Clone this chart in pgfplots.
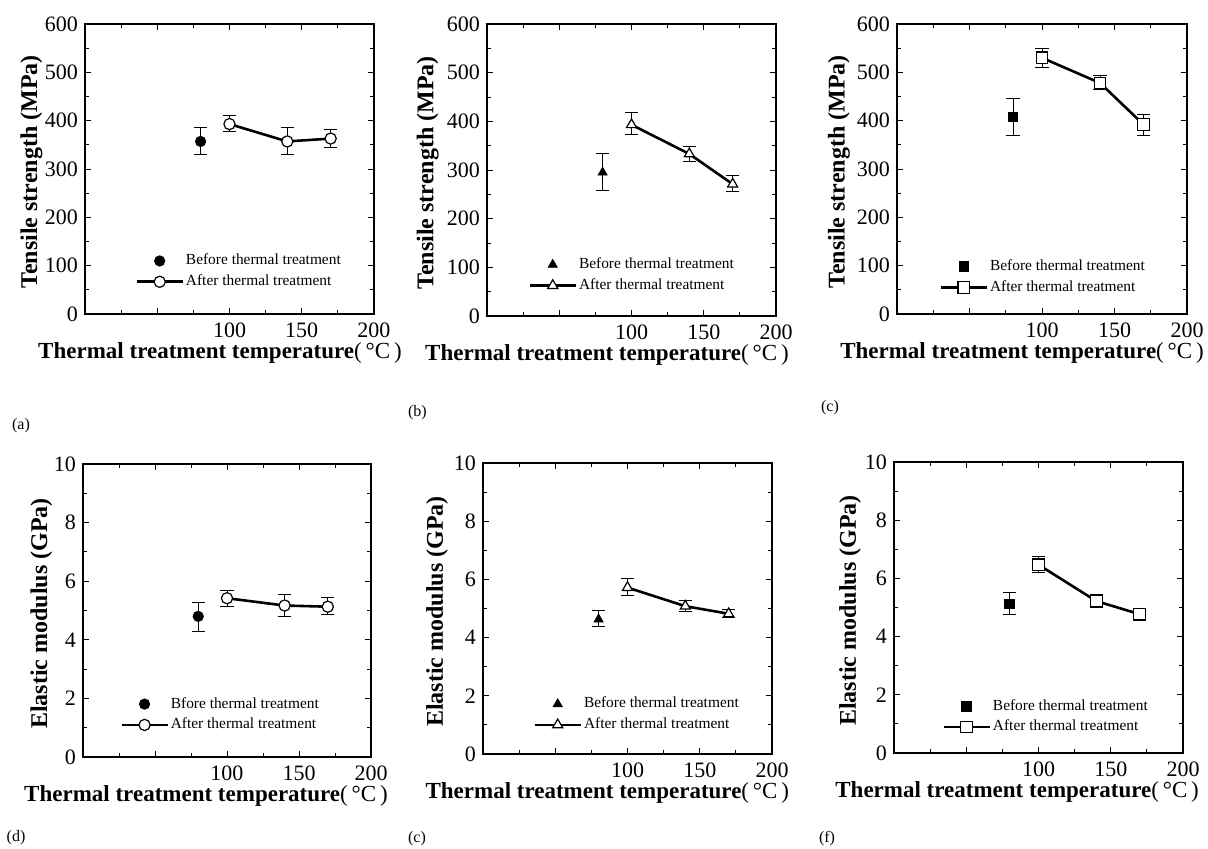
\documentclass[border=0pt]{standalone}
\usepackage{pgfplots}
\pgfplotsset{compat=1.18}
\usepackage{fontspec}
\setmainfont{Liberation Serif}
\begin{document}
\begin{tikzpicture}
\pgfplotsset{
  panel/.style={
    scale only axis,
    xmin=0, xmax=200,
    xtick={0,50,100,150,200},
    xticklabels={,,100,150,200},
    minor x tick num=1,
    minor y tick num=1,
    tick align=inside,
    major tick length=3pt,
    minor tick length=2pt,
    axis line style={line width=0.6pt},
    every tick/.style={black, line width=0.5pt},
    tick label style={font=\fontsize{11}{12}\selectfont},
    /pgf/number format/assume math mode=true,
    xticklabel style={yshift=-1pt},
    xlabelpos/.style={every axis x label/.style={at={(axis description cs:##1,-0.134)}, anchor=center, font=\bfseries\fontsize{11.5}{13}\selectfont}},
    ylabelpos/.style={every axis y label/.style={at={(axis description cs:##1,0.49)}, rotate=90, anchor=center, font=\bfseries\fontsize{12}{13}\selectfont}},
    xlabel={Thermal treatment temperature{\mdseries (\,°C\,)}},
    legend style={draw=none, fill=none, font=\fontsize{7.7}{8}\selectfont, inner sep=0pt, row sep=1.5pt, nodes={inner sep=1pt}, anchor=west},
    legend cell align=left,
    legend image code/.code={\draw[mark repeat=2,mark phase=2,##1] plot coordinates {(0pt,0pt) (11.5pt,0pt) (23pt,0pt)};},
    error bars/y dir=both, error bars/y explicit,
    error bars/error bar style={line width=0.5pt, black},
    error bars/error mark options={rotate=90, mark size=3.3pt, line width=0.5pt, black},
  },
  toprow/.style={ymin=0, ymax=600, ytick distance=100, ylabel={Tensile strength (MPa)}},
  botrow/.style={ymin=0, ymax=10, ytick distance=2, ylabel={Elastic modulus (GPa)}},
  before/.style={only marks, black, mark options={fill=black, draw=black}},
  after/.style={black, line width=1.3pt, mark options={fill=white, draw=black, line width=0.6pt}},
}
\path[use as bounding box] (0,0) rectangle (604pt,424pt);

% (a)
\begin{axis}[panel, toprow, xlabelpos=0.467, ylabelpos=-0.185, at={(42.5pt,267pt)}, anchor=south west, width=144.5pt, height=145pt,
  legend style={at={(axis description cs:0.173,0.147)}}]
\addplot[before, mark=*, mark size=2.6pt] coordinates {(80,357) += (0,28) -= (0,27)};
\addlegendentry{Before thermal treatment}
\addplot[after, mark=*, mark size=2.8pt] coordinates {(100,393) += (0,17) -= (0,15) (140,357) += (0,28) -= (0,28) (170,363) += (0,19) -= (0,19)};
\addlegendentry{After thermal treatment}
\end{axis}

% (b)
\begin{axis}[panel, toprow, xlabelpos=0.415, ylabelpos=-0.205, at={(243.5pt,266pt)}, anchor=south west, width=144.5pt, height=146pt,
  legend style={at={(axis description cs:0.142,0.140)}}]
\addplot[before, mark=triangle*, mark size=2.6pt] coordinates {(80,295) += (0,39) -= (0,37)};
\addlegendentry{Before thermal treatment}
\addplot[after, mark=triangle*, mark size=2.9pt] coordinates {(100,393) += (0,26) -= (0,21) (140,333) += (0,16) -= (0,15) (170,271) += (0,17) -= (0,15)};
\addlegendentry{After thermal treatment}
\end{axis}

% (c)
\begin{axis}[panel, toprow, xlabelpos=0.431, ylabelpos=-0.2, at={(448.5pt,267pt)}, anchor=south west, width=145pt, height=145pt,
  legend style={at={(axis description cs:0.145,0.128)}}]
\addplot[before, mark=square*, mark size=2.4pt] coordinates {(80,408) += (0,37) -= (0,38)};
\addlegendentry{Before thermal treatment}
\addplot[after, mark=square*, mark size=2.9pt] coordinates {(100,530) += (0,20) -= (0,20) (140,478) += (0,15) -= (0,13) (170,392) += (0,21) -= (0,22)};
\addlegendentry{After thermal treatment}
\end{axis}

% (d)
\begin{axis}[panel, botrow, xlabelpos=0.427, ylabelpos=-0.145, at={(41.5pt,45.5pt)}, anchor=south west, width=144pt, height=146.5pt,
  legend style={at={(axis description cs:0.128,0.145)}}]
\addplot[before, mark=*, mark size=2.6pt] coordinates {(80,4.8) += (0,0.47) -= (0,0.5)};
\addlegendentry{Bfore thermal treatment}
\addplot[after, mark=*, mark size=2.8pt] coordinates {(100,5.42) += (0,0.26) -= (0,0.27) (140,5.17) += (0,0.38) -= (0,0.39) (170,5.13) += (0,0.3) -= (0,0.28)};
\addlegendentry{After thermal treatment}
\end{axis}

% (e)
\begin{axis}[panel, botrow, xlabelpos=0.43, ylabelpos=-0.159, at={(241.5pt,47pt)}, anchor=south west, width=144.5pt, height=145.5pt,
  legend style={at={(axis description cs:0.173,0.136)}}]
\addplot[before, mark=triangle*, mark size=2.6pt] coordinates {(80,4.63) += (0,0.3) -= (0,0.26)};
\addlegendentry{Before thermal treatment}
\addplot[after, mark=triangle*, mark size=2.9pt] coordinates {(100,5.72) += (0,0.31) -= (0,0.27) (140,5.08) += (0,0.2) -= (0,0.18) (170,4.82) += (0,0.16) -= (0,0.14)};
\addlegendentry{After thermal treatment}
\end{axis}

% (f)
\begin{axis}[panel, botrow, xlabelpos=0.426, ylabelpos=-0.152, at={(447pt,47.5pt)}, anchor=south west, width=144.5pt, height=145.5pt,
  legend style={at={(axis description cs:0.166,0.125)}}]
\addplot[before, mark=square*, mark size=2.4pt] coordinates {(80,5.13) += (0,0.37) -= (0,0.38)};
\addlegendentry{Before thermal treatment}
\addplot[after, mark=square*, mark size=2.9pt] coordinates {(100,6.47) += (0,0.28) -= (0,0.25) (140,5.22) += (0,0.23) -= (0,0.22) (170,4.77) += (0,0.16) -= (0,0.17)};
\addlegendentry{After thermal treatment}
\end{axis}

\begin{scope}[every node/.style={font=\fontsize{8}{9}\selectfont}]
\node at (10.5pt,211pt) {(a)};
\node at (208.7pt,217.5pt) {(b)};
\node at (415pt,220pt) {(c)};
\node at (8pt,5pt) {(d)};
\node at (208.5pt,4.5pt) {(c)};
\node at (413.5pt,4.5pt) {(f)};
\end{scope}
\end{tikzpicture}
\end{document}
